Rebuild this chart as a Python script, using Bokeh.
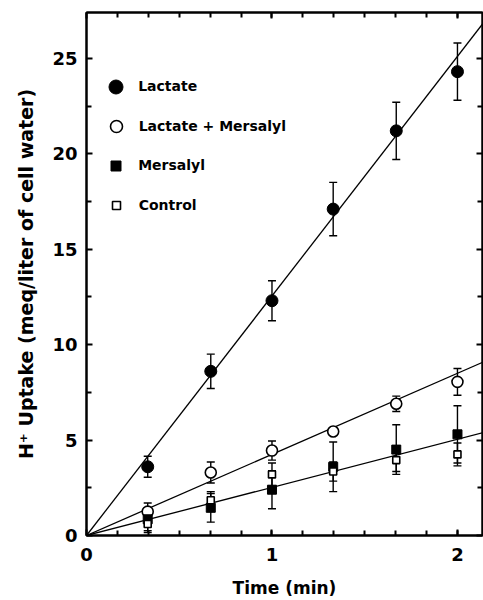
from bokeh.plotting import figure
from bokeh.models import (Range1d, LinearAxis, FixedTicker, Whisker, ColumnDataSource,
                          Legend, LegendItem, TeeHead, CustomJSTickFormatter)
from bokeh.embed import file_html
from bokeh.resources import INLINE

# ---- data ----
time_min = [0.33, 0.67, 1.0, 1.33, 1.67, 2.0]

lactate = [3.6, 8.6, 12.3, 17.1, 21.2, 24.3]
lactate_err = [0.55, 0.9, 1.05, 1.4, 1.5, 1.5]

lact_mers = [1.25, 3.3, 4.45, 5.45, 6.9, 8.05]
lact_mers_err = [0.45, 0.55, 0.5, 0.15, 0.4, 0.7]

mersalyl = [0.85, 1.45, 2.4, 3.6, 4.5, 5.3]
mersalyl_err = [0.6, 0.75, 1.0, 1.3, 1.3, 1.5]

control = [0.6, 1.85, 3.2, 3.35, 3.95, 4.25]
control_err = [0.45, 0.45, 0.6, 0.5, 0.6, 0.6]

# fitted line slopes (meq / min)
slope_lactate = 12.55
slope_lact_mers = 4.25
slope_mers_control = 2.52

x_major = [0, 1, 2]
x_minor = [k / 6 for k in range(1, 13)]
y_major = [0, 5, 10, 15, 20, 25]
y_minor = [2.5 + 5 * k for k in range(6)]

series_labels = ["Lactate", "Lactate + Mersalyl", "Mersalyl", "Control"]

X_MAX = 2.135
Y_MAX = 27.4
FONT = "DejaVu Sans"

p = figure(width=483, height=600, output_backend="svg", toolbar_location=None,
           x_range=Range1d(0, X_MAX), y_range=Range1d(0, Y_MAX),
           min_border_left=86, min_border_right=1, min_border_top=12, min_border_bottom=63)
p.grid.visible = False
p.outline_line_color = "black"
p.outline_line_width = 2
p.background_fill_color = "white"
p.border_fill_color = "white"

xt = FixedTicker(ticks=x_major, minor_ticks=x_minor)
yt = FixedTicker(ticks=y_major, minor_ticks=y_minor)


def style_axis(ax, labels=True):
    ax.axis_line_width = 2
    ax.axis_line_color = "black"
    ax.major_tick_in = 6
    ax.major_tick_out = 0
    ax.minor_tick_in = 5
    ax.minor_tick_out = 0
    ax.major_tick_line_width = 2
    ax.minor_tick_line_width = 2
    if labels:
        ax.major_label_text_font = FONT
        ax.major_label_text_font_style = "bold"
        ax.major_label_text_font_size = "18px"
        ax.major_label_text_color = "black"
        ax.axis_label_text_font = FONT
        ax.axis_label_text_font_style = "bold"
        ax.axis_label_text_color = "black"
    else:
        ax.formatter = CustomJSTickFormatter(code="return ''")
        ax.major_label_standoff = 0


xa = p.xaxis[0]
xa.ticker = xt
style_axis(xa)
xa.major_label_standoff = 12
xa.axis_label = "Time (min)"
xa.axis_label_text_font_size = "17px"
xa.axis_label_standoff = 14

ya = p.yaxis[0]
ya.ticker = yt
style_axis(ya)
ya.major_label_standoff = 9
ya.axis_label = "H\u207a Uptake (meq/liter of cell water)"
ya.axis_label_text_font_size = "19px"
ya.axis_label_standoff = 12

top = LinearAxis(ticker=xt)
style_axis(top, labels=False)
p.add_layout(top, "above")
right = LinearAxis(ticker=yt)
style_axis(right, labels=False)
p.add_layout(right, "right")

# fitted lines through the origin
line_x = [0, X_MAX * 1.05]
for s in (slope_lactate, slope_lact_mers, slope_mers_control):
    p.line(line_x, [s * v for v in line_x], line_color="black", line_width=1.3)

# error bars
for vals, errs in ((lactate, lactate_err), (lact_mers, lact_mers_err),
                   (mersalyl, mersalyl_err), (control, control_err)):
    src = ColumnDataSource(dict(x=time_min,
                                upper=[v + e for v, e in zip(vals, errs)],
                                lower=[v - e for v, e in zip(vals, errs)]))
    w = Whisker(source=src, base="x", upper="upper", lower="lower",
                line_color="black", line_width=1.4,
                upper_head=TeeHead(size=8, line_width=1.4, line_color="black"),
                lower_head=TeeHead(size=8, line_width=1.4, line_color="black"))
    p.add_layout(w)

# markers
r_lac = p.scatter(time_min, lactate, marker="circle", size=12,
                  fill_color="black", line_color="black")
r_lm = p.scatter(time_min, lact_mers, marker="circle", size=11,
                 fill_color="white", line_color="black", line_width=1.6)
r_mer = p.scatter(time_min, mersalyl, marker="square", size=9,
                  fill_color="black", line_color="black")
r_con = p.scatter(time_min, control, marker="square", size=7,
                  fill_color="white", line_color="black", line_width=1.6)

# legends (one per entry so each keeps its own marker size)
frame_h = 525
centers_from_top = [76.3, 115.7, 155.3, 194.7]
glyph_boxes = [35, 30, 25, 20]
glyph_cx = 29.7
text_x = 52.3
for lab, r, cy, box in zip(series_labels, (r_lac, r_lm, r_mer, r_con),
                           centers_from_top, glyph_boxes):
    leg = Legend(items=[LegendItem(label=lab, renderers=[r])],
                 location=(glyph_cx - box / 2, frame_h - cy - box / 2),
                 glyph_width=box, glyph_height=box, label_height=box,
                 label_standoff=int(round(text_x - glyph_cx - box / 2)),
                 padding=0, margin=0, spacing=0,
                 border_line_color=None, background_fill_alpha=0,
                 label_text_font=FONT, label_text_font_style="bold",
                 label_text_font_size="14px", label_text_color="black")
    p.add_layout(leg)

open("out.html", "w").write(file_html(p, INLINE))
